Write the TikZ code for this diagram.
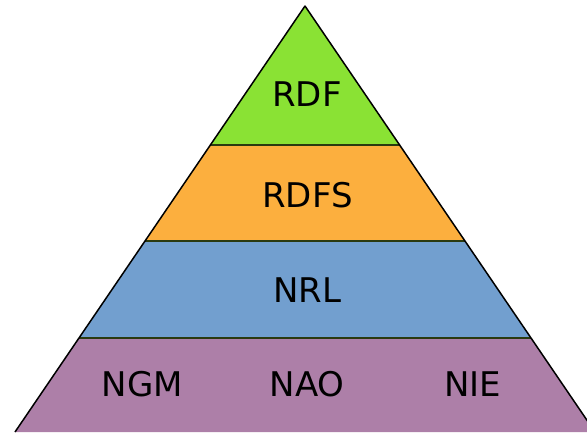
\documentclass[tikz,border=0pt]{standalone}
\usepackage{fontspec}
\setmainfont{DejaVu Sans}
\usepackage{tikz}
\usetikzlibrary{calc}

\definecolor{rdfgreen}{HTML}{8AE234}
\definecolor{rdfsorange}{HTML}{FCAF3E}
\definecolor{nrlblue}{HTML}{729FCF}
\definecolor{nepomukplum}{HTML}{AD7FA8}
\definecolor{seamline}{HTML}{2A3A10}

\tikzset{
  layer/.style={line width=1.2pt,draw=seamline},
  layertext/.style={font=\fontsize{34}{40}\selectfont,inner sep=0pt}
}

\begin{document}
\begin{tikzpicture}[x=1pt,y=-1pt]
\useasboundingbox (0,0) rectangle (587,432);
\clip (0,0) rectangle (587,432);

% corners of the pyramid
\coordinate (apex) at (305,6);
\coordinate (l1) at (210.4,145); \coordinate (r1) at (399.6,145);
\coordinate (l2) at (145,241);   \coordinate (r2) at (465,241);
\coordinate (l3) at (79,338);    \coordinate (r3) at (531,338);
\coordinate (l4) at (15,432);    \coordinate (r4) at (595,432);

% Layers
\fill[rdfgreen] (apex) -- (r1) -- (l1) -- cycle;
\fill[rdfsorange] (l1) -- (r1) -- (r2) -- (l2) -- cycle;
\fill[nrlblue] (l2) -- (r2) -- (r3) -- (l3) -- cycle;
\fill[nepomukplum] (l3) -- (r3) -- (r4) -- (l4) -- cycle;

% Seams between layers
\draw[layer] (l1) -- (r1);
\draw[layer] (l2) -- (r2);
\draw[layer] (l3) -- (r3);

% Outline
\draw[line width=1.5pt,line join=round] (l4) -- (apex) -- (r4);

% Labels
\node[layertext] (rdf) at (307,94) {RDF};
\node[layertext] (rdfs) at (307.5,195) {RDFS};
\node[layertext] (nrl) at (307,290) {NRL};
\node[layertext] (ngm) at (142.5,384) {NGM};
\node[layertext] (nao) at (307,384) {NAO};
\node[layertext] (nie) at (472.5,384) {NIE};
\end{tikzpicture}
\end{document}
